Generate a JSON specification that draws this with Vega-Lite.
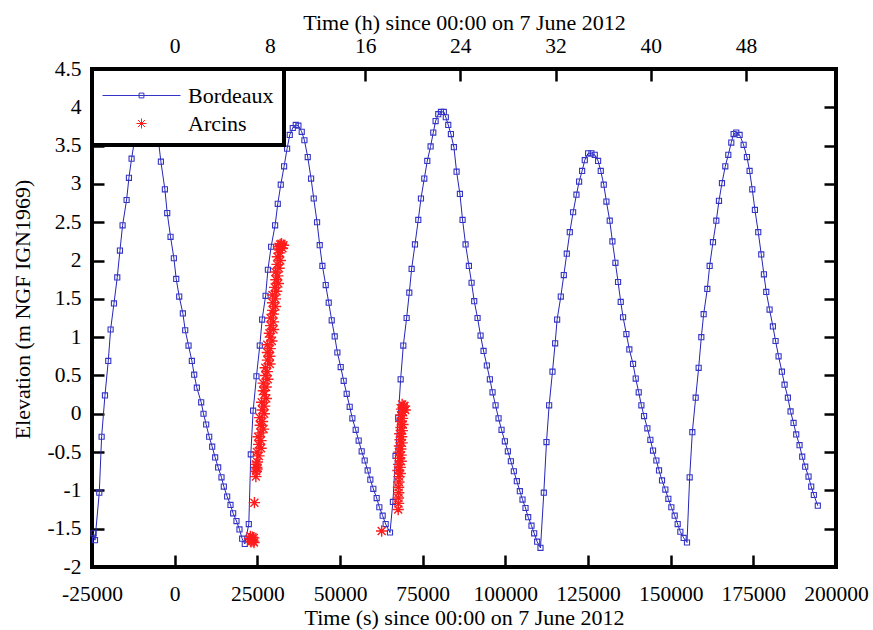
{
  "$schema": "https://vega.github.io/schema/vega-lite/v6.json",
  "width": 744,
  "height": 498,
  "autosize": {"type": "none"},
  "padding": {"left": 92, "top": 69, "right": 37, "bottom": 63},
  "background": "white",
  "config": {
    "view": {"stroke": "black", "strokeWidth": 4},
    "axis": {
      "labelFont": "Liberation Serif", "labelFontSize": 21.5, "labelColor": "black",
      "titleFont": "Liberation Serif", "titleFontSize": 22, "titleFontWeight": "normal", "titleColor": "black",
      "domain": false, "grid": false, "tickColor": "black", "tickWidth": 2.5, "tickSize": -12,
      "labelOverlap": false, "labelFlush": false
    },
    "legend": {"strokeWidth": 4}
  },
  "datasets": {
    "bordeaux": [
      {"t": -24500, "elev": -1.56, "series": "Bordeaux"},
      {"t": -24100, "elev": -1.65, "series": "Bordeaux"},
      {"t": -22800, "elev": -1.03, "series": "Bordeaux"},
      {"t": -22090, "elev": -0.30, "series": "Bordeaux"},
      {"t": -21080, "elev": 0.24, "series": "Bordeaux"},
      {"t": -20080, "elev": 0.69, "series": "Bordeaux"},
      {"t": -19370, "elev": 1.10, "series": "Bordeaux"},
      {"t": -18360, "elev": 1.44, "series": "Bordeaux"},
      {"t": -17360, "elev": 1.78, "series": "Bordeaux"},
      {"t": -16550, "elev": 2.13, "series": "Bordeaux"},
      {"t": -15750, "elev": 2.46, "series": "Bordeaux"},
      {"t": -14540, "elev": 2.79, "series": "Bordeaux"},
      {"t": -13830, "elev": 3.08, "series": "Bordeaux"},
      {"t": -13030, "elev": 3.33, "series": "Bordeaux"},
      {"t": -12100, "elev": 3.58, "series": "Bordeaux"},
      {"t": -11200, "elev": 3.80, "series": "Bordeaux"},
      {"t": -10300, "elev": 3.95, "series": "Bordeaux"},
      {"t": -9400, "elev": 4.03, "series": "Bordeaux"},
      {"t": -8500, "elev": 4.05, "series": "Bordeaux"},
      {"t": -7600, "elev": 4.00, "series": "Bordeaux"},
      {"t": -6700, "elev": 3.90, "series": "Bordeaux"},
      {"t": -5800, "elev": 3.76, "series": "Bordeaux"},
      {"t": -5000, "elev": 3.60, "series": "Bordeaux"},
      {"t": -4165, "elev": 3.29, "series": "Bordeaux"},
      {"t": -2957, "elev": 2.93, "series": "Bordeaux"},
      {"t": -2252, "elev": 2.62, "series": "Bordeaux"},
      {"t": -1245, "elev": 2.31, "series": "Bordeaux"},
      {"t": -238, "elev": 2.03, "series": "Bordeaux"},
      {"t": 467, "elev": 1.76, "series": "Bordeaux"},
      {"t": 1373, "elev": 1.53, "series": "Bordeaux"},
      {"t": 2481, "elev": 1.31, "series": "Bordeaux"},
      {"t": 3186, "elev": 1.09, "series": "Bordeaux"},
      {"t": 4193, "elev": 0.89, "series": "Bordeaux"},
      {"t": 5200, "elev": 0.69, "series": "Bordeaux"},
      {"t": 5905, "elev": 0.51, "series": "Bordeaux"},
      {"t": 6711, "elev": 0.34, "series": "Bordeaux"},
      {"t": 8019, "elev": 0.15, "series": "Bordeaux"},
      {"t": 8724, "elev": 0.00, "series": "Bordeaux"},
      {"t": 9530, "elev": -0.14, "series": "Bordeaux"},
      {"t": 10436, "elev": -0.30, "series": "Bordeaux"},
      {"t": 11342, "elev": -0.43, "series": "Bordeaux"},
      {"t": 12249, "elev": -0.57, "series": "Bordeaux"},
      {"t": 13155, "elev": -0.70, "series": "Bordeaux"},
      {"t": 14162, "elev": -0.83, "series": "Bordeaux"},
      {"t": 14867, "elev": -0.95, "series": "Bordeaux"},
      {"t": 15874, "elev": -1.08, "series": "Bordeaux"},
      {"t": 16881, "elev": -1.19, "series": "Bordeaux"},
      {"t": 17687, "elev": -1.30, "series": "Bordeaux"},
      {"t": 18694, "elev": -1.40, "series": "Bordeaux"},
      {"t": 19600, "elev": -1.51, "series": "Bordeaux"},
      {"t": 20405, "elev": -1.63, "series": "Bordeaux"},
      {"t": 21211, "elev": -1.70, "series": "Bordeaux"},
      {"t": 22419, "elev": -1.44, "series": "Bordeaux"},
      {"t": 23024, "elev": -0.53, "series": "Bordeaux"},
      {"t": 23728, "elev": 0.04, "series": "Bordeaux"},
      {"t": 24735, "elev": 0.49, "series": "Bordeaux"},
      {"t": 25742, "elev": 0.89, "series": "Bordeaux"},
      {"t": 26450, "elev": 1.23, "series": "Bordeaux"},
      {"t": 27500, "elev": 1.54, "series": "Bordeaux"},
      {"t": 28200, "elev": 1.88, "series": "Bordeaux"},
      {"t": 29167, "elev": 2.18, "series": "Bordeaux"},
      {"t": 30375, "elev": 2.46, "series": "Bordeaux"},
      {"t": 31181, "elev": 2.74, "series": "Bordeaux"},
      {"t": 32087, "elev": 2.99, "series": "Bordeaux"},
      {"t": 33094, "elev": 3.23, "series": "Bordeaux"},
      {"t": 34000, "elev": 3.46, "series": "Bordeaux"},
      {"t": 34806, "elev": 3.64, "series": "Bordeaux"},
      {"t": 35712, "elev": 3.73, "series": "Bordeaux"},
      {"t": 36618, "elev": 3.77, "series": "Bordeaux"},
      {"t": 37424, "elev": 3.76, "series": "Bordeaux"},
      {"t": 38431, "elev": 3.68, "series": "Bordeaux"},
      {"t": 39237, "elev": 3.57, "series": "Bordeaux"},
      {"t": 40244, "elev": 3.35, "series": "Bordeaux"},
      {"t": 41251, "elev": 3.07, "series": "Bordeaux"},
      {"t": 42056, "elev": 2.81, "series": "Bordeaux"},
      {"t": 43063, "elev": 2.50, "series": "Bordeaux"},
      {"t": 43869, "elev": 2.20, "series": "Bordeaux"},
      {"t": 44675, "elev": 1.93, "series": "Bordeaux"},
      {"t": 45681, "elev": 1.68, "series": "Bordeaux"},
      {"t": 46588, "elev": 1.45, "series": "Bordeaux"},
      {"t": 47494, "elev": 1.22, "series": "Bordeaux"},
      {"t": 48400, "elev": 1.01, "series": "Bordeaux"},
      {"t": 49206, "elev": 0.80, "series": "Bordeaux"},
      {"t": 50213, "elev": 0.61, "series": "Bordeaux"},
      {"t": 51119, "elev": 0.43, "series": "Bordeaux"},
      {"t": 52025, "elev": 0.26, "series": "Bordeaux"},
      {"t": 52931, "elev": 0.09, "series": "Bordeaux"},
      {"t": 53737, "elev": -0.06, "series": "Bordeaux"},
      {"t": 54744, "elev": -0.21, "series": "Bordeaux"},
      {"t": 55650, "elev": -0.35, "series": "Bordeaux"},
      {"t": 56557, "elev": -0.49, "series": "Bordeaux"},
      {"t": 57463, "elev": -0.61, "series": "Bordeaux"},
      {"t": 58369, "elev": -0.74, "series": "Bordeaux"},
      {"t": 59175, "elev": -0.86, "series": "Bordeaux"},
      {"t": 60081, "elev": -0.98, "series": "Bordeaux"},
      {"t": 61088, "elev": -1.10, "series": "Bordeaux"},
      {"t": 61894, "elev": -1.22, "series": "Bordeaux"},
      {"t": 62900, "elev": -1.33, "series": "Bordeaux"},
      {"t": 63807, "elev": -1.44, "series": "Bordeaux"},
      {"t": 65117, "elev": -1.55, "series": "Bordeaux"},
      {"t": 66000, "elev": -1.15, "series": "Bordeaux"},
      {"t": 66800, "elev": -0.55, "series": "Bordeaux"},
      {"t": 67600, "elev": -0.05, "series": "Bordeaux"},
      {"t": 68339, "elev": 0.45, "series": "Bordeaux"},
      {"t": 69144, "elev": 0.89, "series": "Bordeaux"},
      {"t": 70152, "elev": 1.25, "series": "Bordeaux"},
      {"t": 70957, "elev": 1.58, "series": "Bordeaux"},
      {"t": 71662, "elev": 1.89, "series": "Bordeaux"},
      {"t": 72669, "elev": 2.21, "series": "Bordeaux"},
      {"t": 73676, "elev": 2.53, "series": "Bordeaux"},
      {"t": 74482, "elev": 2.81, "series": "Bordeaux"},
      {"t": 75489, "elev": 3.07, "series": "Bordeaux"},
      {"t": 76395, "elev": 3.30, "series": "Bordeaux"},
      {"t": 77402, "elev": 3.49, "series": "Bordeaux"},
      {"t": 78208, "elev": 3.67, "series": "Bordeaux"},
      {"t": 78913, "elev": 3.82, "series": "Bordeaux"},
      {"t": 79718, "elev": 3.91, "series": "Bordeaux"},
      {"t": 80524, "elev": 3.94, "series": "Bordeaux"},
      {"t": 81400, "elev": 3.94, "series": "Bordeaux"},
      {"t": 82000, "elev": 3.87, "series": "Bordeaux"},
      {"t": 82739, "elev": 3.77, "series": "Bordeaux"},
      {"t": 83544, "elev": 3.65, "series": "Bordeaux"},
      {"t": 84450, "elev": 3.48, "series": "Bordeaux"},
      {"t": 85256, "elev": 3.16, "series": "Bordeaux"},
      {"t": 86263, "elev": 2.87, "series": "Bordeaux"},
      {"t": 87069, "elev": 2.53, "series": "Bordeaux"},
      {"t": 87975, "elev": 2.21, "series": "Bordeaux"},
      {"t": 88982, "elev": 1.93, "series": "Bordeaux"},
      {"t": 89788, "elev": 1.71, "series": "Bordeaux"},
      {"t": 90593, "elev": 1.47, "series": "Bordeaux"},
      {"t": 91600, "elev": 1.25, "series": "Bordeaux"},
      {"t": 92507, "elev": 1.02, "series": "Bordeaux"},
      {"t": 93413, "elev": 0.82, "series": "Bordeaux"},
      {"t": 94420, "elev": 0.63, "series": "Bordeaux"},
      {"t": 95326, "elev": 0.45, "series": "Bordeaux"},
      {"t": 96131, "elev": 0.28, "series": "Bordeaux"},
      {"t": 97038, "elev": 0.11, "series": "Bordeaux"},
      {"t": 97944, "elev": -0.06, "series": "Bordeaux"},
      {"t": 98851, "elev": -0.21, "series": "Bordeaux"},
      {"t": 99857, "elev": -0.36, "series": "Bordeaux"},
      {"t": 100764, "elev": -0.49, "series": "Bordeaux"},
      {"t": 101670, "elev": -0.62, "series": "Bordeaux"},
      {"t": 102576, "elev": -0.75, "series": "Bordeaux"},
      {"t": 103483, "elev": -0.88, "series": "Bordeaux"},
      {"t": 104389, "elev": -1.01, "series": "Bordeaux"},
      {"t": 105194, "elev": -1.12, "series": "Bordeaux"},
      {"t": 106101, "elev": -1.23, "series": "Bordeaux"},
      {"t": 106906, "elev": -1.35, "series": "Bordeaux"},
      {"t": 107913, "elev": -1.46, "series": "Bordeaux"},
      {"t": 108719, "elev": -1.56, "series": "Bordeaux"},
      {"t": 109625, "elev": -1.67, "series": "Bordeaux"},
      {"t": 110632, "elev": -1.75, "series": "Bordeaux"},
      {"t": 111639, "elev": -1.03, "series": "Bordeaux"},
      {"t": 112445, "elev": -0.37, "series": "Bordeaux"},
      {"t": 113250, "elev": 0.11, "series": "Bordeaux"},
      {"t": 114257, "elev": 0.55, "series": "Bordeaux"},
      {"t": 115063, "elev": 0.92, "series": "Bordeaux"},
      {"t": 115667, "elev": 1.23, "series": "Bordeaux"},
      {"t": 116775, "elev": 1.53, "series": "Bordeaux"},
      {"t": 117681, "elev": 1.81, "series": "Bordeaux"},
      {"t": 118588, "elev": 2.09, "series": "Bordeaux"},
      {"t": 119494, "elev": 2.37, "series": "Bordeaux"},
      {"t": 120501, "elev": 2.63, "series": "Bordeaux"},
      {"t": 121508, "elev": 2.86, "series": "Bordeaux"},
      {"t": 122313, "elev": 3.03, "series": "Bordeaux"},
      {"t": 123220, "elev": 3.17, "series": "Bordeaux"},
      {"t": 124025, "elev": 3.31, "series": "Bordeaux"},
      {"t": 125032, "elev": 3.40, "series": "Bordeaux"},
      {"t": 126039, "elev": 3.40, "series": "Bordeaux"},
      {"t": 127046, "elev": 3.38, "series": "Bordeaux"},
      {"t": 128053, "elev": 3.30, "series": "Bordeaux"},
      {"t": 128858, "elev": 3.17, "series": "Bordeaux"},
      {"t": 129765, "elev": 2.99, "series": "Bordeaux"},
      {"t": 130571, "elev": 2.77, "series": "Bordeaux"},
      {"t": 131577, "elev": 2.52, "series": "Bordeaux"},
      {"t": 132383, "elev": 2.25, "series": "Bordeaux"},
      {"t": 133289, "elev": 1.97, "series": "Bordeaux"},
      {"t": 134095, "elev": 1.72, "series": "Bordeaux"},
      {"t": 134900, "elev": 1.46, "series": "Bordeaux"},
      {"t": 135605, "elev": 1.26, "series": "Bordeaux"},
      {"t": 136612, "elev": 1.04, "series": "Bordeaux"},
      {"t": 137500, "elev": 0.84, "series": "Bordeaux"},
      {"t": 138627, "elev": 0.65, "series": "Bordeaux"},
      {"t": 139433, "elev": 0.46, "series": "Bordeaux"},
      {"t": 140339, "elev": 0.28, "series": "Bordeaux"},
      {"t": 141145, "elev": 0.11, "series": "Bordeaux"},
      {"t": 141950, "elev": -0.03, "series": "Bordeaux"},
      {"t": 142957, "elev": -0.19, "series": "Bordeaux"},
      {"t": 143863, "elev": -0.34, "series": "Bordeaux"},
      {"t": 144669, "elev": -0.48, "series": "Bordeaux"},
      {"t": 145676, "elev": -0.61, "series": "Bordeaux"},
      {"t": 146482, "elev": -0.74, "series": "Bordeaux"},
      {"t": 147388, "elev": -0.87, "series": "Bordeaux"},
      {"t": 148395, "elev": -0.99, "series": "Bordeaux"},
      {"t": 149301, "elev": -1.11, "series": "Bordeaux"},
      {"t": 150208, "elev": -1.22, "series": "Bordeaux"},
      {"t": 151215, "elev": -1.33, "series": "Bordeaux"},
      {"t": 152121, "elev": -1.44, "series": "Bordeaux"},
      {"t": 152926, "elev": -1.54, "series": "Bordeaux"},
      {"t": 153933, "elev": -1.62, "series": "Bordeaux"},
      {"t": 154940, "elev": -1.68, "series": "Bordeaux"},
      {"t": 155746, "elev": -0.83, "series": "Bordeaux"},
      {"t": 156552, "elev": -0.24, "series": "Bordeaux"},
      {"t": 157559, "elev": 0.21, "series": "Bordeaux"},
      {"t": 158465, "elev": 0.60, "series": "Bordeaux"},
      {"t": 159271, "elev": 1.00, "series": "Bordeaux"},
      {"t": 159975, "elev": 1.30, "series": "Bordeaux"},
      {"t": 161083, "elev": 1.63, "series": "Bordeaux"},
      {"t": 161788, "elev": 1.93, "series": "Bordeaux"},
      {"t": 162795, "elev": 2.24, "series": "Bordeaux"},
      {"t": 163802, "elev": 2.52, "series": "Bordeaux"},
      {"t": 164608, "elev": 2.78, "series": "Bordeaux"},
      {"t": 165514, "elev": 3.01, "series": "Bordeaux"},
      {"t": 166521, "elev": 3.23, "series": "Bordeaux"},
      {"t": 167427, "elev": 3.38, "series": "Bordeaux"},
      {"t": 168334, "elev": 3.54, "series": "Bordeaux"},
      {"t": 169038, "elev": 3.65, "series": "Bordeaux"},
      {"t": 169844, "elev": 3.67, "series": "Bordeaux"},
      {"t": 170851, "elev": 3.64, "series": "Bordeaux"},
      {"t": 172059, "elev": 3.51, "series": "Bordeaux"},
      {"t": 173066, "elev": 3.35, "series": "Bordeaux"},
      {"t": 173872, "elev": 3.17, "series": "Bordeaux"},
      {"t": 174678, "elev": 2.93, "series": "Bordeaux"},
      {"t": 175483, "elev": 2.66, "series": "Bordeaux"},
      {"t": 176490, "elev": 2.37, "series": "Bordeaux"},
      {"t": 177397, "elev": 2.08, "series": "Bordeaux"},
      {"t": 178202, "elev": 1.82, "series": "Bordeaux"},
      {"t": 178907, "elev": 1.59, "series": "Bordeaux"},
      {"t": 179914, "elev": 1.36, "series": "Bordeaux"},
      {"t": 180921, "elev": 1.14, "series": "Bordeaux"},
      {"t": 181726, "elev": 0.95, "series": "Bordeaux"},
      {"t": 182633, "elev": 0.75, "series": "Bordeaux"},
      {"t": 183640, "elev": 0.55, "series": "Bordeaux"},
      {"t": 184445, "elev": 0.38, "series": "Bordeaux"},
      {"t": 185452, "elev": 0.21, "series": "Bordeaux"},
      {"t": 186257, "elev": 0.03, "series": "Bordeaux"},
      {"t": 187164, "elev": -0.12, "series": "Bordeaux"},
      {"t": 187970, "elev": -0.27, "series": "Bordeaux"},
      {"t": 188977, "elev": -0.41, "series": "Bordeaux"},
      {"t": 189782, "elev": -0.56, "series": "Bordeaux"},
      {"t": 190688, "elev": -0.69, "series": "Bordeaux"},
      {"t": 191695, "elev": -0.82, "series": "Bordeaux"},
      {"t": 192501, "elev": -0.95, "series": "Bordeaux"},
      {"t": 193300, "elev": -1.06, "series": "Bordeaux"},
      {"t": 194500, "elev": -1.20, "series": "Bordeaux"}
    ],
    "arcins": [
      {"t": 22600, "elev": -1.63, "series": "Arcins"},
      {"t": 22900, "elev": -1.60, "series": "Arcins"},
      {"t": 23100, "elev": -1.67, "series": "Arcins"},
      {"t": 23300, "elev": -1.64, "series": "Arcins"},
      {"t": 23500, "elev": -1.61, "series": "Arcins"},
      {"t": 23700, "elev": -1.66, "series": "Arcins"},
      {"t": 23900, "elev": -1.62, "series": "Arcins"},
      {"t": 24000, "elev": -1.68, "series": "Arcins"},
      {"t": 24120, "elev": -1.16, "series": "Arcins"},
      {"t": 24550, "elev": -0.82, "series": "Arcins"},
      {"t": 24700, "elev": -0.75, "series": "Arcins"},
      {"t": 24800, "elev": -0.70, "series": "Arcins"},
      {"t": 24650, "elev": -0.66, "series": "Arcins"},
      {"t": 24900, "elev": -0.72, "series": "Arcins"},
      {"t": 25000, "elev": -0.63, "series": "Arcins"},
      {"t": 25464, "elev": -0.55, "series": "Arcins"},
      {"t": 24886, "elev": -0.50, "series": "Arcins"},
      {"t": 26127, "elev": -0.45, "series": "Arcins"},
      {"t": 25409, "elev": -0.40, "series": "Arcins"},
      {"t": 26090, "elev": -0.35, "series": "Arcins"},
      {"t": 25231, "elev": -0.30, "series": "Arcins"},
      {"t": 26053, "elev": -0.25, "series": "Arcins"},
      {"t": 26874, "elev": -0.20, "series": "Arcins"},
      {"t": 25876, "elev": -0.15, "series": "Arcins"},
      {"t": 26557, "elev": -0.10, "series": "Arcins"},
      {"t": 25698, "elev": -0.05, "series": "Arcins"},
      {"t": 27080, "elev": 0.00, "series": "Arcins"},
      {"t": 26501, "elev": 0.05, "series": "Arcins"},
      {"t": 27183, "elev": 0.10, "series": "Arcins"},
      {"t": 26324, "elev": 0.15, "series": "Arcins"},
      {"t": 27705, "elev": 0.20, "series": "Arcins"},
      {"t": 27127, "elev": 0.25, "series": "Arcins"},
      {"t": 26828, "elev": 0.30, "series": "Arcins"},
      {"t": 27649, "elev": 0.35, "series": "Arcins"},
      {"t": 26791, "elev": 0.40, "series": "Arcins"},
      {"t": 28172, "elev": 0.45, "series": "Arcins"},
      {"t": 27454, "elev": 0.50, "series": "Arcins"},
      {"t": 27995, "elev": 0.55, "series": "Arcins"},
      {"t": 27416, "elev": 0.60, "series": "Arcins"},
      {"t": 28798, "elev": 0.65, "series": "Arcins"},
      {"t": 28079, "elev": 0.70, "series": "Arcins"},
      {"t": 28761, "elev": 0.75, "series": "Arcins"},
      {"t": 28042, "elev": 0.80, "series": "Arcins"},
      {"t": 28863, "elev": 0.85, "series": "Arcins"},
      {"t": 28005, "elev": 0.90, "series": "Arcins"},
      {"t": 29386, "elev": 0.95, "series": "Arcins"},
      {"t": 28948, "elev": 1.00, "series": "Arcins"},
      {"t": 28649, "elev": 1.05, "series": "Arcins"},
      {"t": 29890, "elev": 1.10, "series": "Arcins"},
      {"t": 29032, "elev": 1.15, "series": "Arcins"},
      {"t": 29853, "elev": 1.20, "series": "Arcins"},
      {"t": 28994, "elev": 1.25, "series": "Arcins"},
      {"t": 29816, "elev": 1.30, "series": "Arcins"},
      {"t": 29657, "elev": 1.35, "series": "Arcins"},
      {"t": 30479, "elev": 1.40, "series": "Arcins"},
      {"t": 29620, "elev": 1.45, "series": "Arcins"},
      {"t": 30441, "elev": 1.50, "series": "Arcins"},
      {"t": 29583, "elev": 1.55, "series": "Arcins"},
      {"t": 30824, "elev": 1.60, "series": "Arcins"},
      {"t": 30246, "elev": 1.65, "series": "Arcins"},
      {"t": 31347, "elev": 1.70, "series": "Arcins"},
      {"t": 30628, "elev": 1.75, "series": "Arcins"},
      {"t": 31170, "elev": 1.80, "series": "Arcins"},
      {"t": 30451, "elev": 1.85, "series": "Arcins"},
      {"t": 31552, "elev": 1.90, "series": "Arcins"},
      {"t": 30974, "elev": 1.95, "series": "Arcins"},
      {"t": 31935, "elev": 2.00, "series": "Arcins"},
      {"t": 31077, "elev": 2.05, "series": "Arcins"},
      {"t": 31758, "elev": 2.10, "series": "Arcins"},
      {"t": 31599, "elev": 2.15, "series": "Arcins"},
      {"t": 32281, "elev": 2.20, "series": "Arcins"},
      {"t": 31410, "elev": 2.18, "series": "Arcins"},
      {"t": 31890, "elev": 2.21, "series": "Arcins"},
      {"t": 32600, "elev": 2.16, "series": "Arcins"},
      {"t": 32900, "elev": 2.20, "series": "Arcins"},
      {"t": 32300, "elev": 2.22, "series": "Arcins"},
      {"t": 62600, "elev": -1.53, "series": "Arcins"},
      {"t": 67600, "elev": -1.25, "series": "Arcins"},
      {"t": 67700, "elev": -1.17, "series": "Arcins"},
      {"t": 67650, "elev": -1.10, "series": "Arcins"},
      {"t": 67750, "elev": -1.03, "series": "Arcins"},
      {"t": 67700, "elev": -0.96, "series": "Arcins"},
      {"t": 67800, "elev": -0.89, "series": "Arcins"},
      {"t": 67850, "elev": -0.82, "series": "Arcins"},
      {"t": 68200, "elev": -0.78, "series": "Arcins"},
      {"t": 67544, "elev": -0.74, "series": "Arcins"},
      {"t": 68189, "elev": -0.70, "series": "Arcins"},
      {"t": 67733, "elev": -0.66, "series": "Arcins"},
      {"t": 68478, "elev": -0.62, "series": "Arcins"},
      {"t": 67922, "elev": -0.58, "series": "Arcins"},
      {"t": 68467, "elev": -0.54, "series": "Arcins"},
      {"t": 67811, "elev": -0.50, "series": "Arcins"},
      {"t": 68356, "elev": -0.46, "series": "Arcins"},
      {"t": 68000, "elev": -0.42, "series": "Arcins"},
      {"t": 68744, "elev": -0.38, "series": "Arcins"},
      {"t": 68189, "elev": -0.34, "series": "Arcins"},
      {"t": 68633, "elev": -0.30, "series": "Arcins"},
      {"t": 68078, "elev": -0.26, "series": "Arcins"},
      {"t": 68822, "elev": -0.22, "series": "Arcins"},
      {"t": 68467, "elev": -0.18, "series": "Arcins"},
      {"t": 69011, "elev": -0.14, "series": "Arcins"},
      {"t": 68356, "elev": -0.10, "series": "Arcins"},
      {"t": 68900, "elev": -0.06, "series": "Arcins"},
      {"t": 68444, "elev": -0.02, "series": "Arcins"},
      {"t": 69089, "elev": 0.02, "series": "Arcins"},
      {"t": 68633, "elev": 0.06, "series": "Arcins"},
      {"t": 69278, "elev": 0.10, "series": "Arcins"},
      {"t": 68800, "elev": 0.12, "series": "Arcins"},
      {"t": 69100, "elev": 0.08, "series": "Arcins"},
      {"t": 69700, "elev": 0.05, "series": "Arcins"},
      {"t": 69500, "elev": 0.10, "series": "Arcins"}
    ],
    "legendentries": [
      {"series": "Bordeaux"},
      {"series": "Arcins"}
    ]
  },
  "layer": [
    {
      "layer": [
        {
          "data": {"name": "bordeaux"},
          "mark": {"type": "line", "color": "#2626b4", "strokeWidth": 1},
          "encoding": {
            "x": {"field": "t", "type": "quantitative", "scale": {"domain": [-25000, 200000], "nice": false, "zero": false},
              "axis": {"orient": "bottom", "values": [-25000, 0, 25000, 50000, 75000, 100000, 125000, 150000, 175000, 200000],
                "tickCount": 30, "title": "Time (s) since 00:00 on 7 June 2012", "labelPadding": 28, "titleY": 57.5, "titleBaseline": "alphabetic",
                "labelOverlap": false, "labelExpr": "'' + datum.value"}},
            "y": {"field": "elev", "type": "quantitative", "scale": {"domain": [-2, 4.5], "nice": false, "zero": false},
              "axis": {"orient": "left", "values": [-2, -1.5, -1, -0.5, 0, 0.5, 1, 1.5, 2, 2.5, 3, 3.5, 4, 4.5],
                "tickCount": 30, "title": "Elevation (m NGF IGN1969)", "labelPadding": 23, "titleX": -63, "titleY": 240, "titleBaseline": "alphabetic",
                "labelOverlap": false, "labelExpr": "'' + datum.value"}}
          }
        },
        {
          "data": {"name": "bordeaux"},
          "mark": {"type": "point", "shape": "square", "size": 26, "filled": false, "strokeWidth": 1.1, "opacity": 1, "color": "#3434c8"},
          "encoding": {
            "x": {"field": "t", "type": "quantitative"},
            "y": {"field": "elev", "type": "quantitative"}
          }
        },
        {
          "data": {"name": "arcins"},
          "mark": {"type": "point", "shape": "M-1,0L1,0M0,-1L0,1M-0.7,-0.7L0.7,0.7M-0.7,0.7L0.7,-0.7", "size": 130, "filled": false, "strokeWidth": 1.4, "opacity": 1, "color": "#ff1c1c"},
          "encoding": {
            "x": {"field": "t", "type": "quantitative"},
            "y": {"field": "elev", "type": "quantitative"}
          }
        },
        {
          "data": {"name": "legendentries"},
          "mark": {"type": "point", "filled": false, "opacity": 0, "strokeWidth": 1},
          "encoding": {
            "color": {"field": "series", "type": "nominal",
              "scale": {"domain": ["Bordeaux", "Arcins"], "range": ["#3434c8", "#ff1c1c"]},
              "legend": {"title": null, "orient": "none", "legendX": 0, "legendY": 0,
                "fillColor": "white", "strokeColor": "black", "padding": 10,
                "symbolSize": 1024, "symbolStrokeWidth": 1, "symbolOpacity": 1, "symbolOffset": 23,
                "labelFont": "Liberation Serif", "labelFontSize": 22,
                "labelColor": "black", "labelOffset": 30, "rowPadding": 0,
                "encode": {"legend": {"strokeWidth": {"value": 4}}}}},
            "shape": {"field": "series", "type": "nominal",
              "scale": {"domain": ["Bordeaux", "Arcins"], "range": ["M-2.4375,0L2.4375,0M-0.15,-0.15L0.15,-0.15L0.15,0.15L-0.15,0.15Z", "M-0.3125,0L0.3125,0M0,-0.3125L0,0.3125M-0.22,-0.22L0.22,0.22M-0.22,0.22L0.22,-0.22"]},
              "legend": {"title": null, "orient": "none", "legendX": 0, "legendY": 0,
                "fillColor": "white", "strokeColor": "black", "padding": 10,
                "symbolSize": 1024, "symbolStrokeWidth": 1, "symbolOpacity": 1, "symbolOffset": 23,
                "labelFont": "Liberation Serif", "labelFontSize": 22,
                "labelColor": "black", "labelOffset": 30, "rowPadding": 0,
                "encode": {"legend": {"strokeWidth": {"value": 4}}}}}
          }
        }
      ]
    },
    {
      "data": {"values": [{"h": 0, "e": 0}]},
      "mark": {"type": "point", "opacity": 0},
      "encoding": {
        "x": {"field": "h", "type": "quantitative", "scale": {"domain": [-6.944444, 55.555556], "nice": false, "zero": false},
          "axis": {"orient": "top", "values": [0, 8, 16, 24, 32, 40, 48], "tickCount": 30, "title": "Time (h) since 00:00 on 7 June 2012",
            "labelPadding": 24, "titleY": -40, "titleBaseline": "alphabetic", "labelOverlap": false, "labelExpr": "'' + datum.value"}},
        "y": {"field": "e", "type": "quantitative", "scale": {"domain": [-2, 4.5], "nice": false, "zero": false},
          "axis": {"orient": "right", "values": [-2, -1.5, -1, -0.5, 0, 0.5, 1, 1.5, 2, 2.5, 3, 3.5, 4, 4.5], "tickCount": 30, "labels": false, "title": null}}
      }
    }
  ],
  "resolve": {"scale": {"x": "independent", "y": "independent"}}
}
